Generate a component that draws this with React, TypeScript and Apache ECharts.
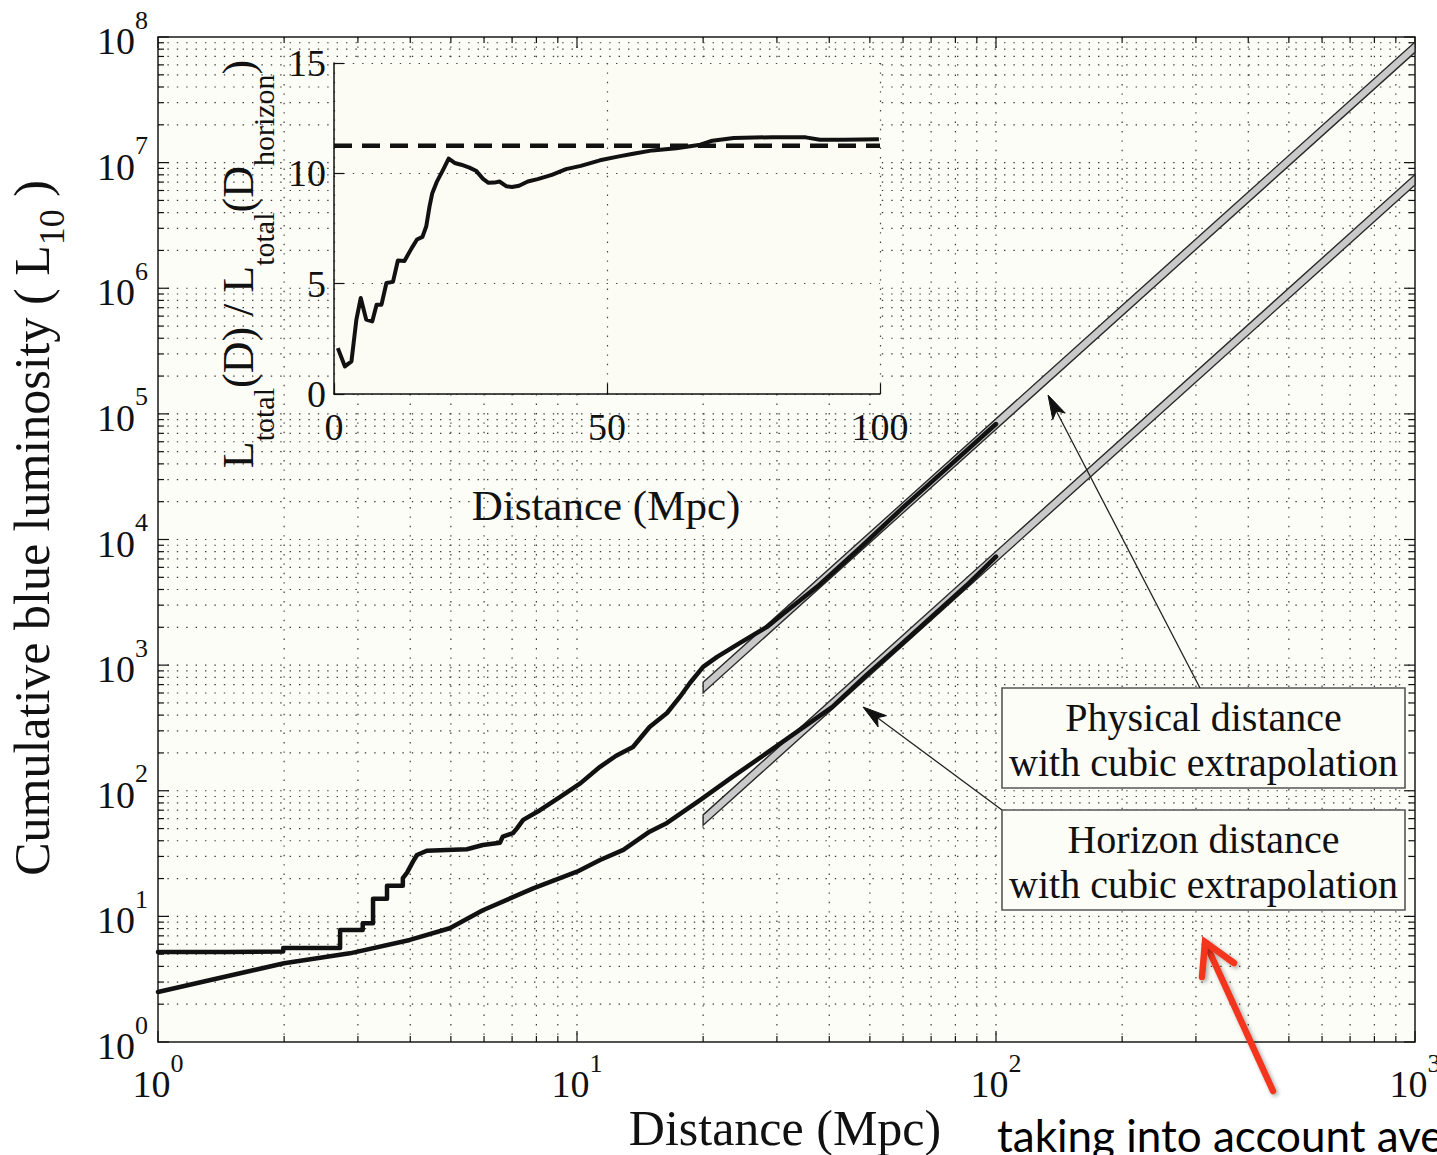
import React, { useEffect, useRef } from 'react';
import * as echarts from 'echarts';

const SERIF = '"Liberation Serif", "Times New Roman", Times, serif';
const SANS = 'Lato, "Open Sans", sans-serif';
const INK = '#111111';
const PAPER = '#fdfdf7';

// Cumulative blue luminosity (L10) versus physical distance (Mpc)
const physicalDist = [1, 1.46, 1.46, 1.99, 1.99, 2.72, 2.72, 3.08, 3.08, 3.26, 3.26, 3.52, 3.52, 3.84, 3.84, 3.93, 4.06, 4.15, 4.38, 5.46, 5.96, 6.55, 6.65, 7.03, 7.19, 7.44, 8.16, 9.1, 10.2, 11.35, 12.4, 13.6, 14.9, 16.4, 17.6, 18.6, 20, 21.6, 24.5, 28.4, 31, 37.4, 47.4, 60, 75, 100];
const physicalLum = [5.2, 5.2, 5.25, 5.25, 5.6, 5.6, 7.8, 7.8, 8.8, 8.8, 13.8, 13.8, 17.5, 17.5, 20.2, 22.3, 27.3, 30.8, 33.3, 34.2, 37, 38.6, 43.1, 45.9, 50.2, 58.6, 70, 89, 115, 155, 190, 223, 322, 416, 558, 721, 968, 1162, 1503, 2014, 2550, 4200, 8600, 18000, 35000, 83000];

// Cumulative blue luminosity (L10) versus horizon distance (Mpc)
const horizonDist = [1, 2, 2.87, 3.99, 4.97, 5.96, 7.86, 10, 11.35, 12.9, 14.9, 16.4, 19.7, 23.5, 28.4, 34, 40.7, 49.2, 58.8, 70.5, 85, 100];
const horizonLum = [2.5, 4.24, 5.08, 6.49, 8.04, 11.2, 16.7, 22.7, 28.1, 33.8, 47.2, 55.4, 84.5, 129, 200, 305, 465, 840, 1420, 2450, 4300, 7300];

// Cubic (L ~ D^3) extrapolations: [D start, L start, D end, L end]
const physicalCubic = [20, 664, 1000, 8.3e7];
const horizonCubic = [20, 58.4, 1000, 7.3e6];

// Inset: L_total(D) / L_total(D_horizon)
const ratioDist = [0.7, 2.0, 3.2, 4.1, 4.9, 5.9, 7.0, 7.8, 8.7, 9.6, 10.8, 11.7, 12.9, 14.2, 15.2, 16.2, 16.9, 17.5, 18.0, 18.8, 20.0, 21.0, 22.1, 23.3, 24.8, 26.0, 27.3, 28.3, 29.4, 30.3, 31.6, 32.6, 33.9, 35.5, 37.3, 39.9, 42.5, 45.2, 48.7, 52.2, 54.8, 58.3, 62.7, 67.1, 69.3, 73.2, 80.3, 86.4, 89.0, 93.4, 99.8];
const ratioValue = [2.08, 1.25, 1.48, 3.37, 4.35, 3.37, 3.29, 4.05, 4.05, 5.03, 5.08, 6.05, 6.03, 6.6, 7.0, 7.12, 7.6, 8.5, 9.1, 9.6, 10.17, 10.67, 10.47, 10.39, 10.26, 10.12, 9.75, 9.57, 9.58, 9.63, 9.41, 9.38, 9.44, 9.63, 9.74, 9.93, 10.19, 10.34, 10.59, 10.77, 10.89, 11.04, 11.14, 11.30, 11.48, 11.6, 11.64, 11.63, 11.52, 11.52, 11.55];
const ratioLevel = 11.25;

// Axis decades
const xDecades = [1, 10, 100, 1000];
const yDecades = [1, 1e1, 1e2, 1e3, 1e4, 1e5, 1e6, 1e7, 1e8];

function withMinors(decades: number[]): number[] {
  const out: number[] = [];
  decades.forEach((d, i) => {
    out.push(d);
    if (i < decades.length - 1) for (let m = 2; m <= 9; m++) out.push(d * m);
  });
  return out;
}
const xGridValues = withMinors(xDecades);
const yGridValues = withMinors(yDecades);

const zip = (a: number[], b: number[]) => a.map((v, i) => [v, b[i]]);

const powRich = {
  b: { fontFamily: SERIF, fontSize: 38, color: INK, verticalAlign: 'bottom', padding: [15, 0, 0, 0] },
  s: { fontFamily: SERIF, fontSize: 26, color: INK, verticalAlign: 'top' },
};
const powLabel = (v: number) => `{b|10}{s|${Math.round(Math.log10(v))}}`;

type Pt = [number, number];
function arrow(tail: Pt, tip: Pt, len: number, half: number, notch: number) {
  const dx = tip[0] - tail[0];
  const dy = tip[1] - tail[1];
  const d = Math.hypot(dx, dy);
  const ux = dx / d;
  const uy = dy / d;
  const px = -uy;
  const py = ux;
  const bx = tip[0] - ux * len;
  const by = tip[1] - uy * len;
  const nx = tip[0] - ux * (len - notch);
  const ny = tip[1] - uy * (len - notch);
  return [
    { type: 'line', z: 60, shape: { x1: tail[0], y1: tail[1], x2: nx, y2: ny }, style: { stroke: '#222', lineWidth: 1.3 } },
    { type: 'polygon', z: 60, shape: { points: [tip, [bx + px * half, by + py * half], [nx, ny], [bx - px * half, by - py * half]] }, style: { fill: '#111', stroke: '#111', lineWidth: 1 } },
  ];
}

export default function App() {
  const ref = useRef<HTMLDivElement>(null);

  useEffect(() => {
    if (!ref.current) return;
    const chart = echarts.init(ref.current, undefined, { renderer: 'svg' });

    const frameSeries = {
      type: 'custom',
      xAxisIndex: 0,
      yAxisIndex: 0,
      z: 1,
      silent: true,
      data: [[1, 1]],
      renderItem: (_p: any, api: any) => {
        const [x0, y0] = api.coord([1, 1]);
        const [x1, y1] = api.coord([1000, 1e8]);
        const kids: any[] = [];
        const dot = () => ({ stroke: '#3a3a3a', lineWidth: 1.2, lineDash: [1.4, 8] });
        const tick = () => ({ stroke: INK, lineWidth: 1.2 });
        xGridValues.forEach((v) => {
          const x = api.coord([v, 1])[0];
          const len = xDecades.includes(v) ? 11 : 6;
          if (x > x0 + 1 && x < x1 - 1) kids.push({ type: 'line', shape: { x1: x, y1: y1, x2: x, y2: y0 }, style: dot() });
          kids.push({ type: 'line', shape: { x1: x, y1: y0, x2: x, y2: y0 - len }, style: tick() });
          kids.push({ type: 'line', shape: { x1: x, y1: y1, x2: x, y2: y1 + len }, style: tick() });
        });
        yGridValues.forEach((v) => {
          const y = api.coord([1, v])[1];
          const len = yDecades.includes(v) ? 11 : 6;
          if (y < y0 - 1 && y > y1 + 1) kids.push({ type: 'line', shape: { x1: x0, y1: y, x2: x1, y2: y }, style: dot() });
          kids.push({ type: 'line', shape: { x1: x0, y1: y, x2: x0 + len, y2: y }, style: tick() });
          kids.push({ type: 'line', shape: { x1: x1, y1: y, x2: x1 - len, y2: y }, style: tick() });
        });
        return { type: 'group', children: kids };
      },
    };

    const bandSeries = (seg: number[]) => ({
      type: 'custom',
      xAxisIndex: 0,
      yAxisIndex: 0,
      z: 2,
      silent: true,
      data: [seg],
      encode: { x: [0, 2], y: [1, 3] },
      renderItem: (_p: any, api: any) => {
        const a = api.coord([api.value(0), api.value(1)]);
        const b = api.coord([api.value(2), api.value(3)]);
        const h = 5.2;
        return {
          type: 'polygon',
          shape: { points: [[a[0], a[1] - h], [b[0], b[1] - h], [b[0], b[1] + h], [a[0], a[1] + h]] },
          style: { fill: '#c9c9c9', stroke: '#2a2a2a', lineWidth: 1.4 },
        };
      },
    });

    const curve = (name: string, data: number[][]) => ({
      name,
      type: 'line',
      xAxisIndex: 0,
      yAxisIndex: 0,
      z: 4,
      data,
      showSymbol: false,
      symbol: 'none',
      lineStyle: { color: INK, width: 4.5, cap: 'round', join: 'round' },
    });

    const physArrow = arrow([1200, 688], [1048, 395], 24, 7, 6);
    const horizArrow = arrow([1002, 810], [863, 707], 24, 7, 6);

    const option: any = {
      animation: false,
      backgroundColor: '#ffffff',
      grid: [
        { left: 158, top: 37, width: 1257, height: 1005, outerBoundsMode: 'none', containLabel: false, show: true, backgroundColor: PAPER, borderColor: '#1a1a1a', borderWidth: 1.5, z: 0 },
        { left: 334, top: 63, width: 546, height: 331, outerBoundsMode: 'none', containLabel: false, show: true, backgroundColor: '#fcfcf4', borderWidth: 0, z: 5 },
      ],
      xAxis: [
        {
          type: 'log', logBase: 10, min: 1, max: 1000, gridIndex: 0, z: 3,
          axisLine: { show: false }, axisTick: { show: false }, splitLine: { show: false },
          axisLabel: { formatter: powLabel, rich: powRich, margin: 8 },
        },
        {
          type: 'value', min: 0, max: 100, interval: 50, gridIndex: 1, z: 6,
          axisLine: { show: true, onZero: false, lineStyle: { color: INK, width: 1.5 } },
          axisTick: { inside: true, length: 10, lineStyle: { color: INK, width: 1.2 } },
          axisLabel: { fontFamily: SERIF, fontSize: 38, color: INK, margin: 14 },
          splitLine: { show: true, lineStyle: { color: '#444', width: 1.2, type: [1.4, 8] } },
        },
      ],
      yAxis: [
        {
          type: 'log', logBase: 10, min: 1, max: 1e8, gridIndex: 0, z: 3,
          axisLine: { show: false }, axisTick: { show: false }, splitLine: { show: false },
          axisLabel: { formatter: powLabel, rich: powRich, margin: 10, padding: [0, 0, 7, 0] },
        },
        {
          type: 'value', min: 0, max: 15, interval: 5, gridIndex: 1, z: 6,
          axisLine: { show: true, onZero: false, lineStyle: { color: INK, width: 1.5 } },
          axisTick: { inside: true, length: 10, lineStyle: { color: INK, width: 1.2 } },
          axisLabel: { fontFamily: SERIF, fontSize: 38, color: INK, margin: 8 },
          splitLine: { show: true, lineStyle: { color: '#444', width: 1.2, type: [1.4, 8] } },
        },
      ],
      series: [
        frameSeries,
        bandSeries(physicalCubic),
        bandSeries(horizonCubic),
        curve('Physical distance', zip(physicalDist, physicalLum)),
        curve('Horizon distance', zip(horizonDist, horizonLum)),
        {
          name: 'Ratio', type: 'line', xAxisIndex: 1, yAxisIndex: 1, z: 8,
          data: zip(ratioDist, ratioValue), showSymbol: false, symbol: 'none',
          lineStyle: { color: INK, width: 4, join: 'round' },
        },
        {
          name: 'Level', type: 'line', xAxisIndex: 1, yAxisIndex: 1, z: 7,
          data: [[0, ratioLevel], [100, ratioLevel]], showSymbol: false, symbol: 'none',
          lineStyle: { color: INK, width: 4.5, type: [18, 10] },
        },
      ],
      graphic: {
        elements: [
          // main axis titles
          {
            type: 'text', x: 38, y: 528, rotation: Math.PI / 2, z: 50,
            style: {
              text: '{m|Cumulative blue luminosity ( L}{sub|10}{m| )}',
              align: 'center', verticalAlign: 'middle',
              rich: {
                m: { fontFamily: SERIF, fontSize: 50, fill: INK, verticalAlign: 'top' },
                sub: { fontFamily: SERIF, fontSize: 36, fill: INK, verticalAlign: 'bottom', padding: [27, 0, 0, 0] },
              },
            },
          },
          {
            type: 'text', x: 785, y: 1128, z: 50,
            style: { text: 'Distance (Mpc)', fontFamily: SERIF, fontSize: 50, fill: INK, align: 'center', verticalAlign: 'middle' },
          },
          // inset axis titles
          {
            type: 'text', x: 247, y: 264, rotation: Math.PI / 2, z: 50,
            style: {
              text: '{m|L}{sub|total}{m|(D) / L}{sub|total}{m|(D}{sub|horizon}{m|)}',
              align: 'center', verticalAlign: 'middle',
              rich: {
                m: { fontFamily: SERIF, fontSize: 44, fill: INK, verticalAlign: 'top' },
                sub: { fontFamily: SERIF, fontSize: 30, fill: INK, verticalAlign: 'bottom', padding: [32, 0, 0, 0] },
              },
            },
          },
          {
            type: 'text', x: 606, y: 505, z: 50,
            style: { text: 'Distance (Mpc)', fontFamily: SERIF, fontSize: 43, fill: INK, align: 'center', verticalAlign: 'middle' },
          },
          // annotation boxes
          { type: 'rect', z: 55, shape: { x: 1002, y: 688, width: 403, height: 100 }, style: { fill: PAPER, stroke: '#555', lineWidth: 1.6 } },
          {
            type: 'text', x: 1203.5, y: 740, z: 56,
            style: { text: 'Physical distance\nwith cubic extrapolation', fontFamily: SERIF, fontSize: 40, lineHeight: 45, fill: INK, align: 'center', verticalAlign: 'middle' },
          },
          { type: 'rect', z: 55, shape: { x: 1002, y: 810, width: 403, height: 100 }, style: { fill: PAPER, stroke: '#555', lineWidth: 1.6 } },
          {
            type: 'text', x: 1203.5, y: 862, z: 56,
            style: { text: 'Horizon distance\nwith cubic extrapolation', fontFamily: SERIF, fontSize: 40, lineHeight: 45, fill: INK, align: 'center', verticalAlign: 'middle' },
          },
          ...physArrow,
          ...horizArrow,
          // red call-out arrow
          {
            type: 'line', z: 70, shape: { x1: 1273, y1: 1091, x2: 1206, y2: 944 },
            style: { stroke: '#f2361c', lineWidth: 6.5, lineCap: 'round', shadowBlur: 4, shadowColor: 'rgba(0,0,0,0.35)', shadowOffsetX: 2, shadowOffsetY: 2 },
          },
          {
            type: 'polyline', z: 70, shape: { points: [[1202, 977], [1205, 942], [1234, 963]] },
            style: { stroke: '#f2361c', lineWidth: 6.5, lineCap: 'round', lineJoin: 'miter', fill: 'none', shadowBlur: 4, shadowColor: 'rgba(0,0,0,0.35)', shadowOffsetX: 2, shadowOffsetY: 2 },
          },
          // slide captions
          {
            type: 'text', x: 997, y: 1135, z: 50,
            style: { text: 'taking into account ave', fontFamily: SANS, fontSize: 44, fill: '#000', align: 'left', verticalAlign: 'middle' },
          },
          {
            type: 'text', x: 200, y: 1152, z: 50,
            style: { text: 'K', fontFamily: SANS, fontSize: 40, fill: '#000', align: 'left', verticalAlign: 'top' },
          },
          {
            type: 'text', x: 440, y: 1152, z: 50,
            style: { text: '08', fontFamily: SANS, fontSize: 40, fill: '#000', align: 'left', verticalAlign: 'top' },
          },
        ],
      },
    };

    chart.setOption(option);
    return () => chart.dispose();
  }, []);

  return <div ref={ref} style={{ position: 'absolute', left: 0, top: 0, width: 1437, height: 1155 }} />;
}
